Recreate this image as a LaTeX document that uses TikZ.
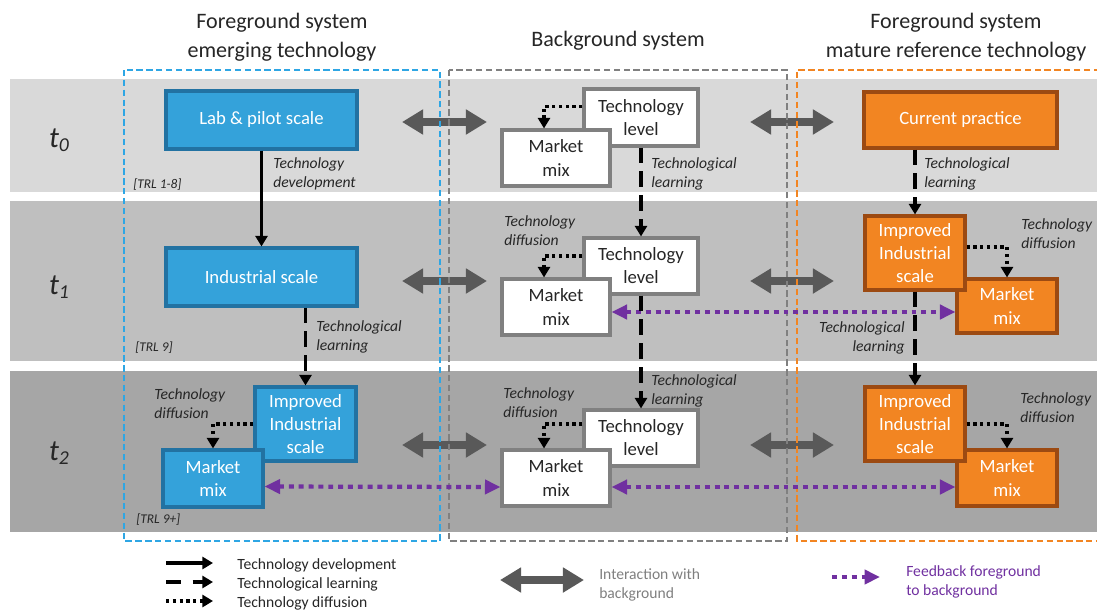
\documentclass[tikz,border=0pt]{standalone}
\usepackage{fontspec}
\setmainfont{Carlito}
\usetikzlibrary{arrows.meta,calc}
\definecolor{band0}{HTML}{D9D9D9}
\definecolor{band1}{HTML}{BFBFBF}
\definecolor{band2}{HTML}{A6A6A6}
\definecolor{bluefill}{HTML}{34A2DA}
\definecolor{blueline}{HTML}{2272A2}
\definecolor{orfill}{HTML}{F28522}
\definecolor{orline}{HTML}{9C4A12}
\definecolor{grayline}{HTML}{808080}
\definecolor{darkarrow}{HTML}{595959}
\definecolor{purp}{HTML}{7030A0}
\definecolor{frameblue}{HTML}{2EA6E4}
\definecolor{frameorange}{HTML}{F28522}
\definecolor{txt}{HTML}{262626}
\definecolor{lgray}{HTML}{7F7F7F}
\tikzset{
  wh/.style 2 args={minimum width=#1*0.025cm, minimum height=#2*0.025cm},
  box/.style={draw, line width=2.2pt, inner sep=0pt, align=center, font=\fontsize{13.3}{16.4}\selectfont},
  bluebox/.style={box, fill=bluefill, draw=blueline, text=white},
  orbox/.style={box, fill=orfill, draw=orline, text=white},
  whbox/.style={box, fill=white, draw=grayline, text=txt},
  lbl/.style={font=\fontsize{11.1}{13.5}\selectfont\itshape, text=txt, align=left, inner sep=0pt},
  trl/.style={font=\fontsize{9.5}{11}\selectfont\itshape, text=txt, inner sep=0pt, anchor=west},
  hdr/.style={font=\fontsize{15.7}{20.6}\selectfont, text=txt, align=center, inner sep=0pt},
  tlbl/.style={font=\fontsize{21}{24}\selectfont\itshape, text=txt, inner sep=0pt},
  legtxt/.style={font=\fontsize{11.1}{13.5}\selectfont, align=left, inner sep=0pt, anchor=west},
  dev/.style={line width=2.6pt, draw=black, -{Triangle[length=7.5pt,width=8.5pt]}},
  learn/.style={dev, dash pattern=on 11pt off 6pt},
  diffu/.style={dev, dash pattern=on 2.4pt off 2.4pt},
  interact/.style={line width=5pt, draw=darkarrow, {Triangle[length=15pt,width=17pt]}-{Triangle[length=15pt,width=17pt]}},
  feedback/.style={line width=3pt, draw=purp, dash pattern=on 3.5pt off 3.5pt, {Triangle[length=11pt,width=10pt]}-{Triangle[length=11pt,width=10pt]}},
  feedone/.style={line width=3pt, draw=purp, dash pattern=on 3.5pt off 3.5pt, -{Triangle[length=11pt,width=10pt]}},
  frame/.style={line width=1.4pt, dash pattern=on 4.5pt off 2.5pt},
}
\begin{document}
\begin{tikzpicture}[x=0.025cm, y=-0.025cm]
\useasboundingbox (0,0) rectangle (1097,612);
% bands
\fill[band0] (10,79) rectangle (1097,192);
\fill[band1] (10,201) rectangle (1097,361);
\fill[band2] (10,371) rectangle (1097,532);
% headers
\node[hdr] (h1) at (282,37.5) {Foreground system\\emerging technology};
\node[hdr] (h2) at (618,41) {Background system};
\node[hdr] (h3) at (956,37.5) {Foreground system\\mature reference technology};
% time labels
\node[tlbl] (t0) at (59,140) {t\raisebox{-0.28ex}{\fontsize{14}{14}\selectfont 0}};
\node[tlbl] (t1) at (59,287) {t\raisebox{-0.28ex}{\fontsize{14}{14}\selectfont 1}};
\node[tlbl] (t2) at (59,453) {t\raisebox{-0.28ex}{\fontsize{14}{14}\selectfont 2}};
% interaction arrows
\foreach \yy/\nm in {122/0,281/1,445/2}{
  \coordinate (iLa\nm) at (402,\yy);
  \coordinate (iLb\nm) at (487,\yy);
  \coordinate (iRa\nm) at (750,\yy);
  \coordinate (iRb\nm) at (834,\yy);
}
\draw[interact] (iLa0) -- (iLb0);
\draw[interact] (iLa1) -- (iLb1);
\draw[interact] (iLa2) -- (iLb2);
\draw[interact] (iRa0) -- (iRb0);
\draw[interact] (iRa1) -- (iRb1);
\draw[interact] (iRa2) -- (iRb2);
% frames
\draw[frame, draw=frameblue] (124,70) rectangle (440,541);
\draw[frame, draw=grayline] (449,70) rectangle (787,541);
\draw[frame, draw=frameorange] (1100,70) -- (797,70) -- (797,541) -- (1100,541);
% left column
\node[bluebox, wh={191}{58}] (lab) at (261.5,120) {Lab \& pilot scale};
\node[bluebox, wh={191}{58}] (ind) at (261.5,277) {Industrial scale};
\node[bluebox, wh={101}{74}] (impL) at (305.5,424) {Improved\\Industrial\\scale};
\node[bluebox, wh={100}{57}] (mmL) at (213,478.5) {Market\\mix};
% middle column
\node[whbox, wh={114}{57}] (tl0) at (641,117.5) {Technology\\level};
\node[whbox, wh={108}{56}] (mm0) at (556,158) {Market\\mix};
\node[whbox, wh={114}{56}] (tl1) at (641,266) {Technology\\level};
\node[whbox, wh={108}{56}] (mm1) at (556,307) {Market\\mix};
\node[whbox, wh={114}{56}] (tl2) at (641,438) {Technology\\level};
\node[whbox, wh={108}{56}] (mm2) at (556,478) {Market\\mix};
% right column
\node[orbox, wh={193}{56}] (cur) at (960.5,120) {Current practice};
\node[orbox, wh={100}{54}] (mmR1) at (1007,306) {Market\\mix};
\node[orbox, wh={100}{74}] (impR1) at (915,253) {Improved\\Industrial\\scale};
\node[orbox, wh={100}{56}] (mmR2) at (1007,478) {Market\\mix};
\node[orbox, wh={100}{74}] (impR2) at (915,424) {Improved\\Industrial\\scale};
% feedback arrows
\draw[feedback] ($(mmL.east)+(0,8)$) -- ($(mm2.west)+(0,9)$);
\draw[feedback] ($(mm2.east)+(0,9)$) -- ($(mmR2.west)+(0,9)$);
\draw[feedback] ($(mm1.east)+(0,5)$) -- ($(mmR1.west)+(0,6)$);
% black arrows
\draw[dev] (lab.south) -- (ind.north);
\draw[learn] (ind.south -| impL.north) -- (impL.north);
\draw[diffu] (impL.west) -| (mmL.north);
\draw[diffu] ($(tl0.west)+(0,-11)$) -| ($(mm0.north)+(-12,0)$);
\draw[diffu] ($(tl1.west)+(0,-10)$) -| ($(mm1.north)+(-12,0)$);
\draw[diffu] ($(tl2.west)+(0,-14)$) -| ($(mm2.north)+(-12,0)$);
\draw[learn] (tl0.south) -- (tl1.north);
\draw[learn] (tl1.south) -- (tl2.north);
\draw[learn] (cur.south -| impR1.north) -- (impR1.north);
\draw[learn] (impR1.south) -- (impR2.north);
\draw[diffu] ($(impR1.east)+(0,-6)$) -| (mmR1.north);
\draw[diffu] (impR2.east) -| (mmR2.north);
% labels
\node[lbl, anchor=west] (l1) at (273,173.5) {Technology\\development};
\node[lbl, anchor=west] (l2) at (316,336.5) {Technological\\learning};
\node[lbl, anchor=west] (l3) at (154,403.5) {Technology\\diffusion};
\node[lbl, anchor=west] (l4) at (651,173.5) {Technological\\learning};
\node[lbl, anchor=west] (l5) at (504,230.5) {Technology\\diffusion};
\node[lbl, anchor=west] (l6) at (651,390.5) {Technological\\learning};
\node[lbl, anchor=west] (l7) at (503,402.5) {Technology\\diffusion};
\node[lbl, anchor=west] (l8) at (924,173.5) {Technological\\learning};
\node[lbl, anchor=west] (l9) at (1021,233.5) {Technology\\diffusion};
\node[lbl, anchor=east, align=right] (l10) at (905,337.5) {Technological\\learning};
\node[lbl, anchor=west] (l11) at (1020,408) {Technology\\diffusion};
\node[trl] (trl1) at (133,185) {[TRL 1-8]};
\node[trl] (trl2) at (135,348) {[TRL 9]};
\node[trl] (trl3) at (136,520) {[TRL 9+]};
% legend
\coordinate (la1) at (166,563); \coordinate (lb1) at (213,563);
\coordinate (la2) at (166,582); \coordinate (lb2) at (213,582);
\coordinate (la3) at (166,601); \coordinate (lb3) at (213,601);
\draw[dev] (la1) -- (lb1);
\draw[dev, dash pattern=on 11pt off 8pt] (la2) -- (lb2);
\draw[diffu] (la3) -- (lb3);
\node[legtxt, text=txt] (lt1) at (237,565.5) {Technology development};
\node[legtxt, text=txt] (lt2) at (237,584.5) {Technological learning};
\node[legtxt, text=txt] (lt3) at (237,603.5) {Technology diffusion};
\coordinate (lia) at (500,580); \coordinate (lib) at (584,580);
\draw[interact] (lia) -- (lib);
\node[legtxt, text=lgray] (lt4) at (599,584.5) {Interaction with\\background};
\coordinate (lfa) at (832,577); \coordinate (lfb) at (880,577);
\draw[feedone] (lfa) -- (lfb);
\node[legtxt, text=purp] (lt5) at (906,581.5) {Feedback foreground\\to background};
\end{tikzpicture}
\end{document}
